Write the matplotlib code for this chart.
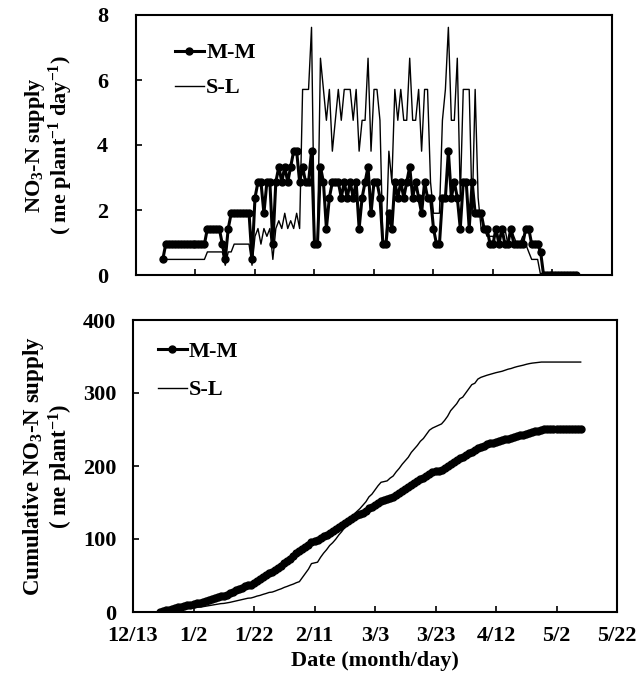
import matplotlib
matplotlib.use("Agg")
import matplotlib.pyplot as plt
import pandas as pd
import numpy as np

# Daily NO3-N supply (me plant-1 day-1), 12/22 to 5/10
mm_daily = (
    [0.48] + [0.95] * 14 + [1.43] * 5 + [0.95, 0.48, 1.43] + [1.9] * 7
    + [0.48, 2.38]
    + [2.86, 2.86, 1.9, 2.86, 2.86, 0.95, 2.86, 3.33]
    + [2.86, 3.33, 2.86, 3.33, 3.81, 3.81, 2.86, 3.33, 2.86, 2.86, 3.81]
    + [0.95, 0.95]
    + [3.33, 2.86, 1.43, 2.38, 2.86, 2.86, 2.86, 2.38, 2.86, 2.38, 2.86, 2.38,
       2.86, 1.43, 2.38, 2.86, 3.33, 1.9, 2.86]
    + [2.86, 2.38, 0.95, 0.95, 1.9, 1.43, 2.86, 2.38, 2.86, 2.38, 2.86, 3.33,
       2.38, 2.86, 2.38, 1.9, 2.86, 2.38, 2.38, 1.43]
    + [0.95, 0.95, 2.38, 2.38, 3.81, 2.38, 2.86, 2.38, 1.43, 2.86, 2.86, 1.43,
       2.86, 1.9, 1.9]
    + [1.9, 1.43, 1.43, 0.95, 0.95, 1.43, 0.95, 1.43, 0.95, 0.95, 1.43, 0.95,
       0.95, 0.95, 0.95, 1.43, 1.43, 0.95, 0.95, 0.95, 0.71]
    + [0.0] * 12
)

sl_daily = (
    [0.48] * 15 + [0.71] * 6 + [0.3] + [0.71] * 2 + [0.95] * 6 + [0.3]
    + [1.19, 1.43, 0.95, 1.43, 1.19, 1.43, 0.48]
    + [1.43, 1.67, 1.43, 1.9, 1.43, 1.67, 1.43, 1.9, 1.43]
    + [5.71, 5.71, 5.71, 7.62, 0.95, 0.95]
    + [6.67, 5.71, 4.76, 5.71, 3.81, 4.76, 5.71, 4.76, 5.71, 5.71, 5.71, 4.76,
       5.71, 3.81, 4.76, 4.76, 6.67, 3.81, 5.71, 5.71, 4.76]
    + [0.95, 0.95, 3.81, 2.86]
    + [5.71, 4.76, 5.71, 4.76, 4.76, 6.67, 4.76, 4.76, 5.71, 3.81, 5.71, 5.71, 2.86]
    + [1.9, 1.9, 1.9]
    + [4.76, 5.71, 7.62, 4.76, 4.76, 6.67, 2.38, 5.71, 5.71, 5.71, 1.9, 5.71, 2.38]
    + [1.43, 1.43, 1.19, 1.19, 1.19, 0.95, 0.95, 1.43, 1.43, 0.95, 1.43, 1.19,
       0.95, 0.95, 1.19, 0.95, 0.71, 0.48, 0.48, 0.48]
    + [0.0] * 13
)

start_date = "2010-12-22"
tick_labels = ["12/13", "1/2", "1/22", "2/11", "3/3", "3/23", "4/12", "5/2", "5/22"]

dates = pd.date_range(start_date, periods=len(mm_daily), freq="D")
mm_cum = np.cumsum(mm_daily)
sl_cum = np.cumsum(sl_daily)

ticks = pd.date_range("2010-12-13", periods=len(tick_labels), freq="20D")

plt.rcParams["font.family"] = ["Liberation Serif", "DejaVu Serif"]
plt.rcParams["font.weight"] = "bold"
plt.rcParams["mathtext.fontset"] = "custom"
plt.rcParams["mathtext.rm"] = "Liberation Serif:bold"
plt.rcParams["mathtext.bf"] = "Liberation Serif:bold"
plt.rcParams["mathtext.it"] = "Liberation Serif:bold:italic"
plt.rcParams["mathtext.default"] = "bf"

fig = plt.figure(figsize=(6.38, 6.74), dpi=100)
ax1 = fig.add_axes([136 / 638, 1 - 275 / 674, 476 / 638, 260 / 674])
ax2 = fig.add_axes([133 / 638, 1 - 612 / 674, 484 / 638, 292 / 674])

# top panel
ax1.plot(dates, mm_daily, color="black", lw=2.2, marker="o", ms=5, label="M-M")
ax1.plot(dates, sl_daily, color="black", lw=1, label="S-L")
ax1.set_ylim(0, 8)
ax1.set_yticks([0, 2, 4, 6, 8])
ax1.set_ylabel("NO$_3$-N supply\n( me plant$^{-1}$ day$^{-1}$)", fontsize=16,
               fontweight="bold", labelpad=16, linespacing=1.0)
ax1.set_xticklabels([])
ax1.tick_params(axis="y", pad=20)
ax1.legend(loc="upper left", bbox_to_anchor=(0.04, 0.97), frameon=False,
           fontsize=16, handlelength=1.3, handletextpad=0.1, labelspacing=0.65)

# bottom panel
ax2.plot(dates, mm_cum, color="black", lw=2.2, marker="o", ms=5, label="M-M")
ax2.plot(dates, sl_cum, color="black", lw=1, label="S-L")
ax2.set_ylim(0, 400)
ax2.set_yticks([0, 100, 200, 300, 400])
ax2.set_ylabel("Cumulative NO$_3$-N supply\n( me plant$^{-1}$)", fontsize=16.5,
               fontweight="bold", labelpad=6, linespacing=1.0)
ax2.set_xlabel("Date (month/day)", fontsize=16, fontweight="bold", labelpad=4)
ax2.tick_params(axis="y", pad=12)
ax2.legend(loc="upper left", bbox_to_anchor=(0.01, 0.995), frameon=False,
           fontsize=16, handlelength=1.3, handletextpad=0.1, labelspacing=0.8)

for ax in (ax1, ax2):
    ax.set_xlim(ticks[0], ticks[-1])
    ax.set_xticks(ticks)
    ax.tick_params(direction="in", length=4, width=1.2, labelsize=16)
    ax.tick_params(axis="x", pad=10)
    for s in ax.spines.values():
        s.set_linewidth(1.5)
ax2.set_xticklabels(tick_labels)

fig.savefig("out.png", dpi=100)
